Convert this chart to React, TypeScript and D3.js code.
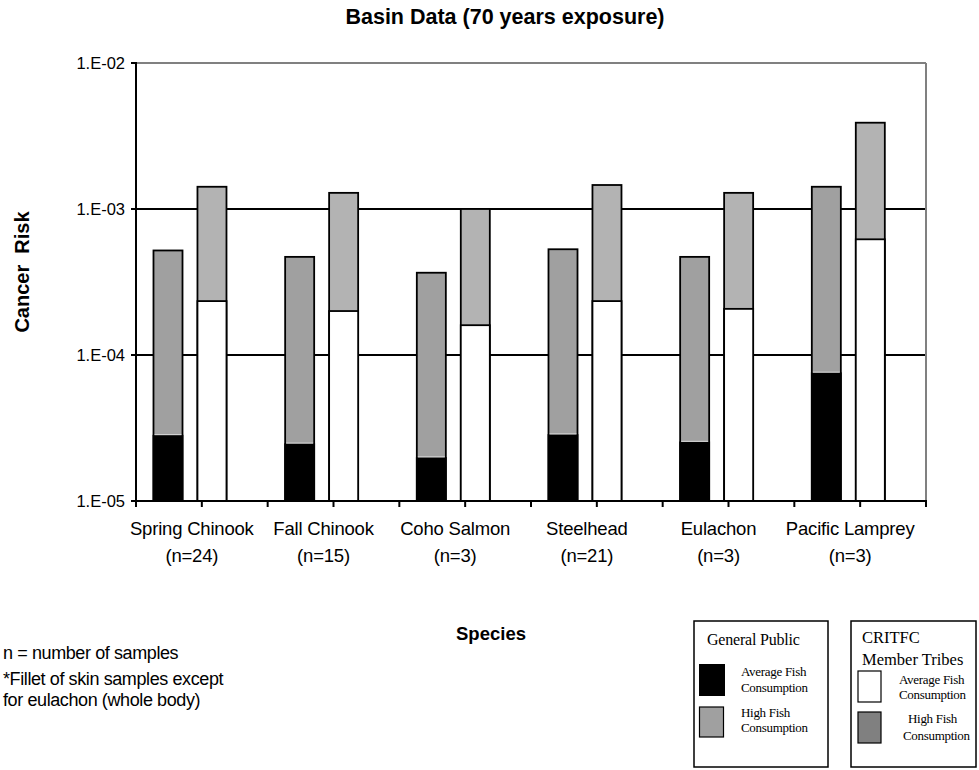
import React from "react";
import * as d3 from "d3";

const species = ["Spring Chinook", "Fall Chinook", "Coho Salmon", "Steelhead", "Eulachon", "Pacific Lamprey"];
const sampleN = [24, 15, 3, 21, 3, 3];
const gpAverage = [2.8e-5, 2.45e-5, 1.97e-5, 2.83e-5, 2.52e-5, 7.5e-5];
const gpHigh = [5.2e-4, 4.7e-4, 3.66e-4, 5.3e-4, 4.7e-4, 1.42e-3];
const tribeAverage = [2.34e-4, 2.0e-4, 1.6e-4, 2.34e-4, 2.07e-4, 6.2e-4];
const tribeHigh = [1.42e-3, 1.29e-3, 1.0e-3, 1.46e-3, 1.29e-3, 3.9e-3];
const yTicks = [1e-5, 1e-4, 1e-3, 1e-2];
const seriesKeys = ["gp", "tribe"];

const SANS = "'Liberation Sans', Arial, sans-serif";
const SERIF = "'Liberation Serif', 'Times New Roman', serif";

const W = 979;
const H = 770;
const plot = { left: 136, right: 926, top: 63, bottom: 501 };

function fmtTick(d: number) {
  const e = Math.round(Math.log10(d));
  return `1.E${e < 0 ? "-" : "+"}${String(Math.abs(e)).padStart(2, "0")}`;
}

export default function App() {
  const y = d3.scaleLog().domain([1e-5, 1e-2]).range([plot.bottom, plot.top]);
  const x = d3.scaleBand<string>().domain(species).range([plot.left, plot.right]).padding(0);
  const bw = x.bandwidth();
  const sub = d3
    .scaleBand<string>()
    .domain(seriesKeys)
    .range([bw * 0.076, bw * 0.744])
    .paddingInner(0.34)
    .paddingOuter(0.17);
  const barW = sub.bandwidth();
  const base = y.domain()[0];

  const xTicks: number[] = [];
  species.forEach((s) => {
    xTicks.push(x(s)!);
    xTicks.push(x(s)! + bw / 2);
  });
  xTicks.push(plot.right);

  return (
    <svg width={W} height={H} style={{ position: "absolute", left: 0, top: 0, background: "#fff" }}>
      <rect x={0} y={0} width={W} height={H} fill="#fff" />
      {/* title */}
      <text x={505} y={24} textAnchor="middle" fontFamily={SANS} fontWeight="bold" fontSize={21.5}>
        Basin Data (70 years exposure)
      </text>

      {/* gridlines */}
      {yTicks.slice(1, -1).map((t) => (
        <line key={t} x1={plot.left} x2={plot.right} y1={y(t)} y2={y(t)} stroke="#000" strokeWidth={2} />
      ))}
      <line x1={plot.left} x2={plot.right} y1={y(1e-2)} y2={y(1e-2)} stroke="#808080" strokeWidth={2} />
      <line x1={plot.right} x2={plot.right} y1={plot.top} y2={plot.bottom} stroke="#808080" strokeWidth={2} />

      {/* bars */}
      {species.map((s, i) => {
        const g0 = x(s)!;
        const x1 = g0 + sub("gp")!;
        const x2 = g0 + sub("tribe")!;
        return (
          <g key={s}>
            <rect x={x1} y={y(gpHigh[i])} width={barW} height={y(base) - y(gpHigh[i])} fill="#a0a0a0" stroke="#000" strokeWidth={1.8} />
            <rect x={x1} y={y(gpAverage[i])} width={barW} height={y(base) - y(gpAverage[i])} fill="#000" stroke="#000" strokeWidth={1.8} />
            <line x1={x1 + 1} x2={x1 + barW - 1} y1={y(gpAverage[i]) - 1} y2={y(gpAverage[i]) - 1} stroke="#fff" strokeWidth={0.8} />
            <rect x={x2} y={y(tribeHigh[i])} width={barW} height={y(base) - y(tribeHigh[i])} fill="#b3b3b3" stroke="#000" strokeWidth={1.8} />
            <rect x={x2} y={y(tribeAverage[i])} width={barW} height={y(base) - y(tribeAverage[i])} fill="#fff" stroke="#000" strokeWidth={1.8} />
          </g>
        );
      })}

      {/* axes */}
      <line x1={plot.left} x2={plot.left} y1={plot.top - 1} y2={plot.bottom + 1} stroke="#000" strokeWidth={2} />
      <line x1={plot.left - 1} x2={plot.right + 1} y1={plot.bottom} y2={plot.bottom} stroke="#000" strokeWidth={2} />
      {yTicks.map((t) => (
        <g key={t}>
          <line x1={plot.left - 5} x2={plot.left} y1={y(t)} y2={y(t)} stroke="#000" strokeWidth={2} />
          <text x={125} y={y(t)} dy="0.35em" textAnchor="end" fontFamily={SANS} fontSize={16.5} fill="#000">
            {fmtTick(t)}
          </text>
        </g>
      ))}
      {xTicks.map((t, i) => (
        <line key={i} x1={t} x2={t} y1={plot.bottom} y2={plot.bottom + 6} stroke="#000" strokeWidth={2} />
      ))}
      {species.map((s, i) => {
        const cx = x(s)! + bw / 2 - 10;
        return (
          <g key={s}>
            <text x={cx} y={535} textAnchor="middle" fontFamily={SANS} fontSize={18.5} letterSpacing={-0.2}>
              {s}
            </text>
            <text x={cx} y={562} textAnchor="middle" fontFamily={SANS} fontSize={18.5} letterSpacing={-0.2}>
              {`(n=${sampleN[i]})`}
            </text>
          </g>
        );
      })}

      {/* axis titles */}
      <text
        transform={`translate(22, 272) rotate(-90)`}
        textAnchor="middle"
        dominantBaseline="central"
        fontFamily={SANS}
        fontWeight="bold"
        fontSize={20}
        xmlSpace="preserve"
      >
        {"Cancer  Risk"}
      </text>
      <text x={491} y={640} textAnchor="middle" fontFamily={SANS} fontWeight="bold" fontSize={18.5}>
        Species
      </text>

      {/* notes */}
      <text x={3} y={659} fontFamily={SANS} fontSize={18} letterSpacing={-0.4} xmlSpace="preserve">
        {"n = number of samples"}
      </text>
      <text x={3} y={685} fontFamily={SANS} fontSize={18} letterSpacing={-0.4}>
        *Fillet of skin samples except
      </text>
      <text x={3} y={706} fontFamily={SANS} fontSize={18} letterSpacing={-0.4}>
        for eulachon (whole body)
      </text>

      {/* legend 1 */}
      <rect x={694} y={621} width={134} height={146} fill="#fff" stroke="#000" strokeWidth={1.5} />
      <text x={707} y={645} fontFamily={SERIF} fontSize={16} letterSpacing={-0.2}>General Public</text>
      <rect x={699} y={664} width={26} height={32} fill="#000" />
      <text x={741} y={676} fontFamily={SERIF} fontSize={13} letterSpacing={-0.3}>Average Fish</text>
      <text x={741} y={692} fontFamily={SERIF} fontSize={13} letterSpacing={-0.3}>Consumption</text>
      <rect x={699.5} y={707} width={24} height={30} fill="#a0a0a0" stroke="#000" strokeWidth={1.2} />
      <text x={741} y={717} fontFamily={SERIF} fontSize={13} letterSpacing={-0.3}>High Fish</text>
      <text x={741} y={732} fontFamily={SERIF} fontSize={13} letterSpacing={-0.3}>Consumption</text>

      {/* legend 2 */}
      <rect x={851} y={621} width={125} height={146} fill="#fff" stroke="#000" strokeWidth={1.5} />
      <text x={862} y={643} fontFamily={SERIF} fontSize={16.5}>CRITFC</text>
      <text x={862} y={665} fontFamily={SERIF} fontSize={16.5}>Member Tribes</text>
      <rect x={858} y={671} width={23} height={31} fill="#fff" stroke="#000" strokeWidth={1.2} />
      <text x={899} y={684} fontFamily={SERIF} fontSize={13} letterSpacing={-0.3}>Average Fish</text>
      <text x={899} y={699} fontFamily={SERIF} fontSize={13} letterSpacing={-0.3}>Consumption</text>
      <rect x={858} y={712} width={23} height={31} fill="#808080" stroke="#000" strokeWidth={1.2} />
      <text x={908} y={723} fontFamily={SERIF} fontSize={13} letterSpacing={-0.3}>High Fish</text>
      <text x={903} y={740} fontFamily={SERIF} fontSize={13} letterSpacing={-0.3}>Consumption</text>
    </svg>
  );
}
